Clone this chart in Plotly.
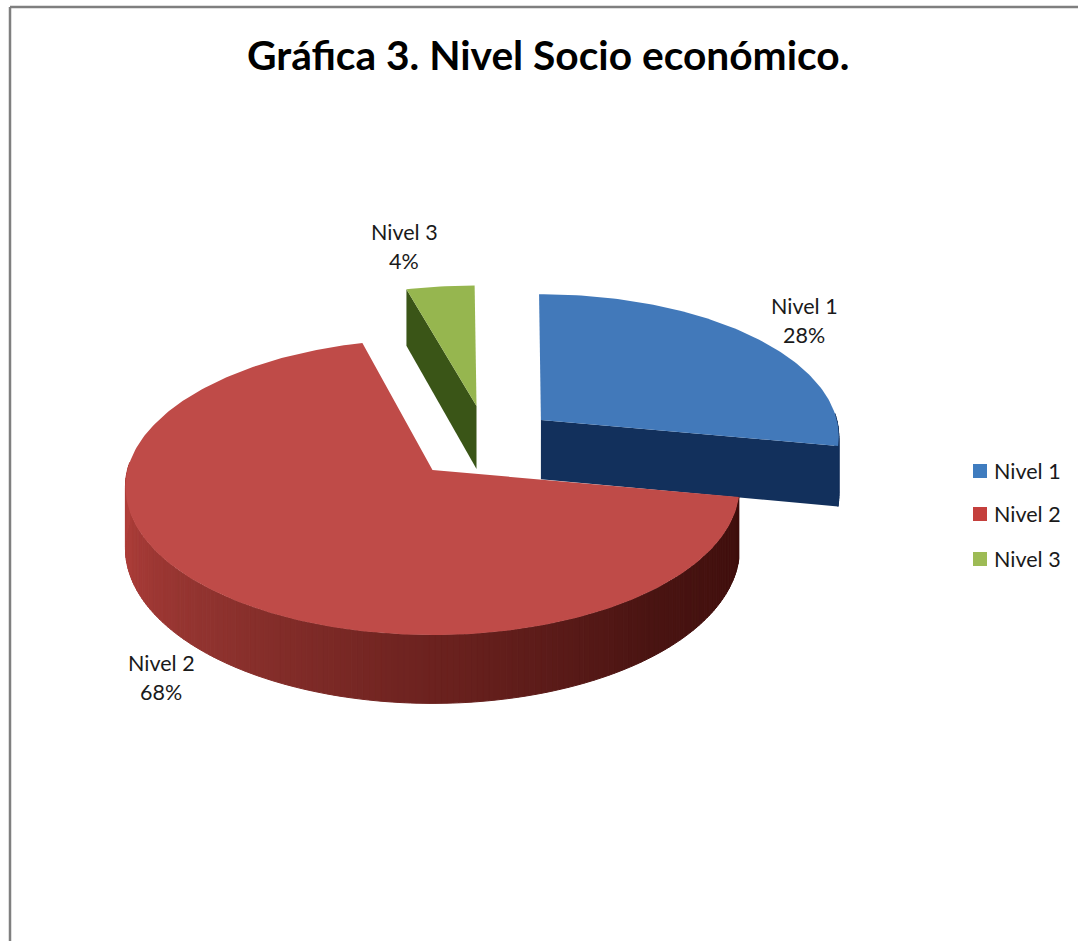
import math
import plotly.graph_objects as go

# Chart data
title_text = "Gráfica 3. Nivel Socio económico."
categories = ["Nivel 1", "Nivel 2", "Nivel 3"]
percentages = [28, 68, 4]
top_colors = ["#4279BA", "#BF4B48", "#96B64F"]
legend_colors = ["#3F7CBF", "#C43F3C", "#9DBB55"]
cut_colors = ["#12305C", None, "#3A5517"]

# Slice explosion in disc units (right, towards the viewer)
explode_x = [0.370, 0.0, 0.152]
explode_y = [-0.356, 0.0, -0.461]

# Per-slice foreshortening of the exploded pieces
slice_sx = [0.97, 1.0, 1.0]
slice_sy = [0.96, 1.0, 0.92]
slice_depth = [0.98, 1.0, 1.04]

# Label anchors on the page
label_x = [804, 161, 404]
label_y = [306, 663, 232]

# Legend anchors on the page
legend_swatch_x = 980
legend_text_x = 992
legend_y = [471, 514, 559]

# Disc projection
CX, CY = 432.5, 470.0
RX = 305.0
PERSP = -0.115
SLOPE = 92.0
DEPTH = 60.5
FIRST_ANGLE = 269.6


def project(x, y):
    w = 1 + PERSP * y
    return CX + RX * x / w, (SLOPE * y + CY) / w


def lerp_color(stops, t):
    for (t0, c0), (t1, c1) in zip(stops, stops[1:]):
        if t <= t1:
            f = max(0.0, (t - t0) / (t1 - t0))
            return "rgb(%d,%d,%d)" % tuple(round(a + (b - a) * f) for a, b in zip(c0, c1))
    return "rgb(%d,%d,%d)" % stops[-1][1]


RED_SIDE = [
    (0, (58, 12, 10)),
    (50, (74, 20, 18)),
    (90, (108, 34, 31)),
    (130, (142, 50, 46)),
    (165, (170, 60, 56)),
    (200, (185, 68, 64)),
]
BLUE_SIDE = [(0, (18, 48, 92)), (360, (18, 48, 92))]

fig = go.Figure()


def poly(xs, ys, color, line=0.0):
    fig.add_trace(go.Scatter(
        x=xs + xs[:1], y=ys + ys[:1], mode="lines", fill="toself", fillcolor=color,
        line=dict(color=color, width=line), hoverinfo="skip", showlegend=False,
    ))


# Angular extent of every slice, clockwise from the right
spans = []
angle = FIRST_ANGLE
for pct in percentages:
    sweep = pct * 3.6
    spans.append((angle, angle + sweep))
    angle += sweep


def apex(i):
    return project(explode_x[i], explode_y[i])


def rim(i, deg):
    """Top-face rim point of slice i and the wall height below it."""
    a = math.radians(deg)
    ax, ay = apex(i)
    px, py = project(math.cos(a), math.sin(a))
    height = DEPTH * slice_depth[i] / (1 + PERSP * math.sin(a))
    return ax + (px - CX) * slice_sx[i], ay + (py - CY) * slice_sy[i], height


def draw_slice(i):
    a0, a1 = spans[i]
    steps = max(4, int(a1 - a0))
    degs = [a0 + (a1 - a0) * k / steps for k in range(steps + 1)]

    # Outer wall, only where the rim faces the viewer
    stops = RED_SIDE if i == 1 else BLUE_SIDE
    for d0, d1 in zip(degs, degs[1:]):
        if math.sin(math.radians((d0 + d1) / 2)) < -0.05:
            continue
        x0, y0, h0 = rim(i, d0)
        x1, y1, h1 = rim(i, d1)
        poly([x0, x1, x1, x0], [y0, y1, y1 + h1, y0 + h0],
             lerp_color(stops, ((d0 + d1) / 2) % 360), line=1.0)

    ax, ay = apex(i)

    # Radial cut facing the viewer
    if cut_colors[i]:
        bx, by, h = rim(i, a1 if i == 0 else a0)
        ah = DEPTH * slice_depth[i]
        poly([ax, bx, bx, ax], [ay, by, by + h, ay + ah], cut_colors[i])

    # Top face
    pts = [rim(i, d) for d in degs]
    poly([ax] + [p[0] for p in pts], [ay] + [p[1] for p in pts], top_colors[i])


# Back slices first so the large slice overlaps them
for idx in (0, 2, 1):
    draw_slice(idx)

# Frame of the chart area along the top and left of the page
fig.add_shape(type="line", x0=10, x1=1078, y0=7, y1=7, line=dict(color="#7f7f7f", width=2.5))
fig.add_shape(type="line", x0=10, x1=10, y0=7, y1=941, line=dict(color="#7f7f7f", width=2.5))

TEXT_FONT = dict(family="Lato, Carlito, sans-serif", size=21.5, color="#1a1a1a")

# Legend: colour swatch followed by the category name
fig.add_trace(go.Scatter(
    x=[legend_swatch_x] * len(categories), y=legend_y, mode="markers",
    marker=dict(symbol="square", size=14, color=legend_colors),
    text=categories, hoverinfo="text", showlegend=False,
))
for name, ly in zip(categories, legend_y):
    fig.add_annotation(x=legend_text_x, y=ly, text=name, showarrow=False,
                       xanchor="left", font=TEXT_FONT)

# Data labels, name above percentage
for name, pct, lx, ly in zip(categories, percentages, label_x, label_y):
    fig.add_annotation(x=lx, y=ly, text=name, showarrow=False, font=TEXT_FONT)
    fig.add_annotation(x=lx, y=ly + 29, text=f"{pct}%", showarrow=False, font=TEXT_FONT)

fig.add_annotation(
    x=548, y=54, text=f"<b>{title_text}</b>", showarrow=False,
    font=dict(family="Lato, Carlito, sans-serif", size=40.7, color="#000000"),
)

fig.update_layout(
    width=1078, height=941, margin=dict(l=0, r=0, t=0, b=0),
    paper_bgcolor="white", plot_bgcolor="white",
    xaxis=dict(range=[0, 1078], visible=False, fixedrange=True),
    yaxis=dict(range=[941, 0], visible=False, fixedrange=True),
    showlegend=False,
)

fig.write_html("out.html")
